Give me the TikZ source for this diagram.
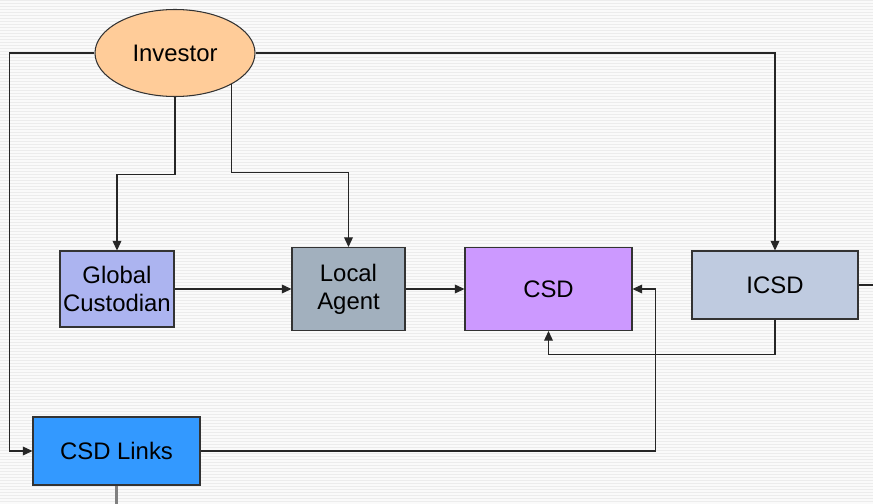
\documentclass[tikz,border=0pt]{standalone}
\usepackage{fontspec}
\setmainfont{Liberation Sans}
\usetikzlibrary{arrows.meta,shapes.geometric}
\definecolor{investorfill}{RGB}{255,204,153}
\definecolor{globalfill}{RGB}{172,180,240}
\definecolor{localfill}{RGB}{162,176,190}
\definecolor{csdfill}{RGB}{204,153,255}
\definecolor{icsdfill}{RGB}{191,203,224}
\definecolor{linksfill}{RGB}{51,153,255}
\definecolor{stripe}{RGB}{236,236,236}
\definecolor{paper}{RGB}{250,250,250}
\newdimen\pxu
\pxu=0.02cm
\begin{document}
\begin{tikzpicture}[x=0.02cm,y=-0.02cm,
    arr/.style={draw=black!85,line width=0.6pt,-{Triangle[length=5.5pt,width=5pt]}},
    plain/.style={draw=black!85,line width=0.6pt}]

      \useasboundingbox (0,0) rectangle (873,504);
      \fill[paper] (0,0) rectangle (873,504);
      \foreach \y in {0,3,...,501}
        \fill[stripe] (0,\y) rectangle (873,\y+1.4);

      \begin{scope}[every node/.style={draw=black!80,line width=0.6pt,inner sep=0pt,
          align=center,font=\fontsize{13.6pt}{16pt}\selectfont}]
        \node[ellipse,fill=investorfill,minimum width=160\pxu,minimum height=87\pxu] (inv) at (175,53) {Investor};
        \node[fill=globalfill,minimum width=114\pxu,minimum height=76\pxu] (gc) at (117,289) {Global\\Custodian};
        \node[fill=localfill,minimum width=113\pxu,minimum height=83\pxu] (la) at (348.5,289) {Local\\Agent};
        \node[fill=csdfill,minimum width=167\pxu,minimum height=83\pxu] (csd) at (548.5,289) {CSD};
        \node[fill=icsdfill,minimum width=166\pxu,minimum height=68\pxu] (icsd) at (775,285) {ICSD};
        \node[fill=linksfill,minimum width=167\pxu,minimum height=68\pxu] (links) at (116.5,451) {CSD Links};
      \end{scope}

      \coordinate (icsdout) at (873,285);
      \coordinate (linksout) at (116.5,504);

      \path[arr] (inv.west) -- ++(-85,0) |- (links.west);
      \path[arr] (inv.east) -| (icsd.north);
      \path[arr] (inv.south) -- ++(0,77) -| (gc.north);
      \path[arr] (inv.-29) -- ++(0,88) -| (la.north);
      \path[arr] (gc.east) -- (la.west);
      \path[arr] (la.east) -- (csd.west);
      \path[arr] (icsd.south) -- ++(0,35) -| (csd.south);
      \path[arr] (links.east) -- ++(455,0) |- (csd.east);
      \path[plain] (icsd.east) -- (icsdout);
      \path[draw=black!50,line width=1.2pt] (links.south) -- (linksout);

    \end{tikzpicture}
\end{document}
